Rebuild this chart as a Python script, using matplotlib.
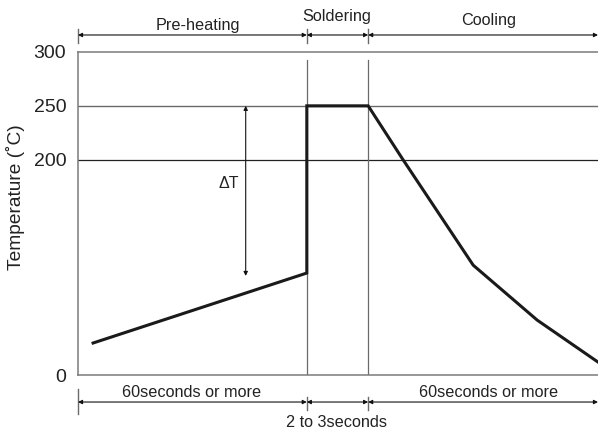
import matplotlib
matplotlib.use('Agg')
import matplotlib.pyplot as plt

# reflow profile (x in arbitrary time units, 0..100 across the axes)
time_pts = [2.9, 44.0, 44.0, 55.8, 62.5, 76.0, 88.3, 100.0]
temp_pts = [29.7, 94.7, 250, 250, 200, 102, 51, 12]

phase_edges = [0.0, 44.0, 55.8, 100.0]
phase_names = ['Pre-heating', 'Soldering', 'Cooling']
phase_label_x = [23.1, 49.8, 78.9]
phase_label_y = [320.4, 329.0, 325.0]

dur_labels = ['60seconds or more', '2 to 3seconds', '60seconds or more']
dur_label_x = [21.8, 49.8, 78.9]
dur_label_y = [-20.4, -48.3, -20.4]

y_ticks = [0, 200, 250, 300]
delta_top, delta_bottom, delta_x = 250, 92, 32.25

plt.rcParams['font.family'] = ['Liberation Sans', 'DejaVu Sans']

fig = plt.figure(figsize=(5.98, 4.3), dpi=100)
ax = fig.add_axes([78 / 598, 55 / 430, 520 / 598, 323 / 430])
ax.set_xlim(0, 100)
ax.set_ylim(0, 300)

ax.spines['right'].set_visible(False)
for side in ['left', 'top', 'bottom']:
    ax.spines[side].set_color('#7a7a7a')
    ax.spines[side].set_linewidth(1.1)

ax.set_xticks([])
ax.set_yticks(y_ticks)
ax.set_yticklabels([str(t) for t in y_ticks], fontsize=14)
ax.tick_params(axis='y', length=0, pad=8.5, colors='#222222')

ax.axhline(250, color='#6a6a6a', lw=1.0)
ax.axhline(200, color='#222222', lw=0.9)
for xe in phase_edges[1:3]:
    ax.plot([xe, xe], [0, 292.6], color='#6a6a6a', lw=0.9)

ax.plot(time_pts, temp_pts, color='#1a1a1a', lw=2.2, solid_joinstyle='miter')

ax.set_ylabel('Temperature (˚C)', fontsize=13.8, color='#222222')
ax.yaxis.set_label_coords(-0.102, 0.551)

# delta T arrow
ax.annotate('', xy=(delta_x, delta_bottom), xytext=(delta_x, delta_top),
            arrowprops=dict(arrowstyle='<|-|>', mutation_scale=6, lw=0.8,
                            color='#111111', shrinkA=0, shrinkB=0))
ax.text(31.0, 177.4, 'ΔT', ha='right', va='center', fontsize=11.5, color='#222222')

arrow_kw = dict(arrowstyle='<|-|>', mutation_scale=6, lw=0.8,
                color='#111111', shrinkA=0, shrinkB=0)

# top phase dimension arrows
for i in range(3):
    ax.annotate('', xy=(phase_edges[i], 315.8), xytext=(phase_edges[i + 1], 315.8),
                arrowprops=arrow_kw, annotation_clip=False)
    ax.text(phase_label_x[i], phase_label_y[i], phase_names[i], ha='center',
            va='baseline', fontsize=11.7, color='#222222', clip_on=False)
for xe in phase_edges[:3]:
    ax.plot([xe, xe], [308.3, 321.3], color='#6a6a6a', lw=1.0, clip_on=False)

# bottom duration arrows
for i in range(3):
    ax.annotate('', xy=(phase_edges[i], -25.1), xytext=(phase_edges[i + 1], -25.1),
                arrowprops=arrow_kw, annotation_clip=False)
    ax.text(dur_label_x[i], dur_label_y[i], dur_labels[i], ha='center',
            va='baseline', fontsize=11.7, color='#222222', clip_on=False)
ax.plot([0, 0], [-13, -36.2], color='#6a6a6a', lw=1.0, clip_on=False)
for xe in phase_edges[1:3]:
    ax.plot([xe, xe], [-20.4, -32.5], color='#6a6a6a', lw=1.0, clip_on=False)

fig.savefig('out.png', dpi=100)
